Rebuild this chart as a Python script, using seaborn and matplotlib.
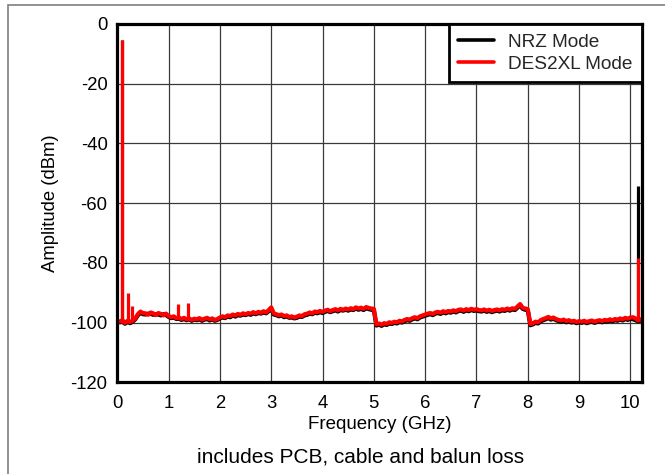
import numpy as np
import pandas as pd
import matplotlib
matplotlib.use("Agg")
import matplotlib.pyplot as plt
import seaborn as sns
from matplotlib.patches import Rectangle

# ---------------- data ----------------
freq_ghz = np.round(np.arange(0.05, 10.2001, 0.05), 2)  # sampling grid, 204 points

des2xl_dbm = [
    -99.6, -99.2, -100.1, -99.4, -99.8, -99.3, -98.6, -97.2, -96.3, -96.8,
    -96.9, -97.4, -96.6, -96.9, -97.5, -96.8, -97.1, -97.6, -97.0, -97.8,
    -98.2, -97.9, -98.5, -98.3, -98.8, -98.4, -98.9, -98.6, -99.1, -98.7,
    -98.9, -98.5, -99.0, -98.7, -98.4, -98.9, -98.6, -99.1, -98.8, -98.3,
    -97.9, -98.2, -97.6, -97.8, -97.3, -97.6, -97.1, -97.4, -96.9, -97.2,
    -96.8, -97.0, -96.5, -96.9, -96.4, -96.7, -96.2, -96.6, -95.8, -94.9,
    -96.9, -97.2, -97.5, -97.3, -97.8, -97.6, -98.1, -97.9, -98.3, -98.0,
    -97.6, -97.8, -97.2, -97.0, -96.6, -96.9, -96.3, -96.5, -96.1, -96.4,
    -96.0, -95.7, -96.2, -95.8, -95.5, -95.9, -95.4, -95.7, -95.3, -95.6,
    -95.2, -95.5, -94.9, -95.3, -95.0, -95.4, -94.8, -95.1, -95.3, -95.4,
    -100.6, -100.3, -100.7, -100.2, -100.4, -99.9, -100.1, -99.7, -99.9, -99.4,
    -99.6, -99.1, -98.8, -99.0, -98.5, -98.2, -98.5, -97.9, -97.6, -97.3,
    -97.0, -96.8, -97.1, -96.6, -96.4, -96.7, -96.2, -96.5, -96.1, -96.3,
    -95.9, -96.2, -95.7, -95.6, -96.0, -95.5, -95.8, -95.4, -95.7, -95.5,
    -95.8, -95.9, -95.6, -96.0, -95.7, -96.1, -95.8, -95.6, -95.9, -95.5,
    -95.7, -95.3, -95.6, -95.2, -95.4, -94.6, -93.8, -95.0, -95.3, -95.5,
    -100.5, -100.2, -99.7, -99.9, -99.2, -98.8, -98.5, -98.1, -98.6, -98.3,
    -98.8, -99.1, -99.3, -99.0, -99.5, -99.2, -99.6, -99.4, -99.8, -99.5,
    -99.7, -99.4, -99.8, -99.5, -99.3, -99.7, -99.4, -99.2, -99.5, -99.1,
    -99.3, -98.9, -99.2, -98.8, -99.0, -98.6, -98.9, -98.4, -98.7, -98.3,
    -98.2, -98.6, -99.3, -98.9,
]

nrz_dbm = [
    -99.9, -99.7, -100.4, -99.8, -100.2, -99.7, -98.9, -97.6, -96.7, -97.2,
    -97.3, -97.0, -97.1, -97.4, -97.2, -97.3, -97.6, -97.2, -97.5, -98.1,
    -98.5, -98.3, -98.8, -98.7, -99.1, -98.8, -99.2, -98.9, -99.4, -99.0,
    -99.2, -98.9, -99.4, -99.0, -98.8, -99.3, -98.9, -99.4, -99.1, -98.6,
    -98.3, -98.5, -98.0, -98.2, -97.6, -98.0, -97.5, -97.7, -97.3, -97.5,
    -97.1, -97.4, -96.9, -97.2, -96.8, -97.0, -96.6, -96.9, -96.2, -95.4,
    -97.3, -97.5, -97.9, -97.6, -98.2, -97.9, -98.4, -98.3, -98.6, -98.4,
    -98.0, -98.1, -97.6, -97.4, -97.0, -97.2, -96.7, -96.9, -96.5, -96.8,
    -96.4, -96.1, -96.5, -96.2, -95.9, -96.3, -95.8, -96.0, -95.7, -96.0,
    -95.6, -95.8, -95.3, -95.7, -95.4, -95.8, -95.2, -95.5, -95.7, -95.8,
    -101.0, -100.7, -101.1, -100.6, -100.8, -100.3, -100.5, -100.1, -100.3, -99.8,
    -100.0, -99.5, -99.2, -99.4, -98.9, -98.6, -98.9, -98.3, -98.0, -97.7,
    -97.4, -97.2, -97.5, -97.0, -96.8, -97.1, -96.6, -96.9, -96.5, -96.7,
    -96.3, -96.6, -96.1, -96.0, -96.4, -95.9, -96.2, -95.8, -96.1, -95.9,
    -96.2, -96.3, -96.0, -96.4, -96.1, -96.5, -96.2, -96.0, -96.3, -95.9,
    -96.1, -95.7, -96.0, -95.6, -95.8, -95.0, -94.2, -95.4, -95.7, -95.9,
    -100.9, -100.6, -100.1, -100.3, -99.6, -99.2, -98.9, -98.5, -99.0, -98.7,
    -99.2, -99.5, -99.7, -99.4, -99.9, -99.6, -100.0, -99.8, -100.2, -99.9,
    -100.1, -99.8, -100.2, -99.9, -99.7, -100.1, -99.8, -99.6, -99.9, -99.5,
    -99.7, -99.3, -99.6, -99.2, -99.4, -99.0, -99.3, -98.8, -99.1, -98.7,
    -98.9, -99.2, -99.6, -99.3,
]

# discrete tones (spurs)
des2xl_spur_ghz = [0.10, 0.20, 0.29, 1.19, 1.38, 10.15]
des2xl_spur_top = [-5.4, -90.0, -94.5, -93.9, -93.3, -78.3]
des2xl_spur_base = [-100.0, -100.0, -99.8, -98.8, -99.0, -99.3]

nrz_spur_ghz = [0.10, 10.15]
nrz_spur_top = [-5.4, -54.2]
nrz_spur_base = [-100.2, -99.6]

modes = ["NRZ Mode", "DES2XL Mode"]
x_ticks = [0, 1, 2, 3, 4, 5, 6, 7, 8, 9, 10]
y_ticks = [-120, -100, -80, -60, -40, -20, 0]

# ---------------- figure ----------------
sns.set_theme(style="white")
plt.rcParams["font.family"] = ["Liberation Sans", "DejaVu Sans"]

fig = plt.figure(figsize=(6.65, 4.74), dpi=100)
ax = fig.add_axes([117.3 / 665, 1 - 382.3 / 474, (641.7 - 117.3) / 665, (382.3 - 24) / 474])

df = pd.concat([
    pd.DataFrame({"Frequency": freq_ghz, "Amplitude": nrz_dbm, "Mode": modes[0]}),
    pd.DataFrame({"Frequency": freq_ghz, "Amplitude": des2xl_dbm, "Mode": modes[1]}),
], ignore_index=True)

palette = {"NRZ Mode": "black", "DES2XL Mode": "#ff0000"}
sns.lineplot(data=df, x="Frequency", y="Amplitude", hue="Mode", hue_order=modes,
             palette=palette, estimator=None, linewidth=3.0, ax=ax, legend=True)

ax.lines[0].set_zorder(2.0)
ax.lines[1].set_zorder(2.2)

ax.vlines(nrz_spur_ghz, nrz_spur_base, nrz_spur_top, colors="black", linewidth=2.3, zorder=2.1)
ax.vlines(des2xl_spur_ghz, des2xl_spur_base, des2xl_spur_top, colors="#ff0000", linewidth=2.3, zorder=2.3)

ax.set_xlim(0, 10.22)
ax.set_ylim(-120, 0)
ax.set_xticks(x_ticks)
ax.set_yticks(y_ticks)
ax.set_xticklabels([str(t) for t in x_ticks])
ax.set_yticklabels([str(t) for t in y_ticks])
ax.tick_params(axis="both", length=0, labelsize=13.3, colors="black")
ax.tick_params(axis="x", pad=9)
ax.tick_params(axis="y", pad=7)

ax.grid(True, color="#3a3a3a", linewidth=0.9)
ax.set_axisbelow(True)
for s in ax.spines.values():
    s.set_visible(True)
    s.set_color("black")
    s.set_linewidth(2.3)

ax.set_xlabel("Frequency (GHz)", fontsize=13.5, color="black", labelpad=3)
ax.set_ylabel("Amplitude (dBm)", fontsize=13.3, color="black", labelpad=8)

leg0 = ax.get_legend()
handles = leg0.legend_handles
labels = [t.get_text() for t in leg0.texts]
for h in handles:
    h.set_linewidth(2.6)
leg = ax.legend(handles, labels, loc="upper right", bbox_to_anchor=(1.0, 1.0),
                borderaxespad=0, frameon=True, fancybox=False, shadow=False,
                fontsize=13.7, handlelength=1.9, handletextpad=0.7,
                labelspacing=0.25, borderpad=0.5)
leg.get_frame().set_edgecolor("black")
leg.get_frame().set_linewidth(2.0)
leg.get_frame().set_alpha(1)
leg.set_zorder(5)

fig.text(361 / 665, 1 - 457 / 474, "includes PCB, cable and balun loss",
         ha="center", va="center", fontsize=15, color="black")

# outer frame of the figure
fig.patches.append(Rectangle((8 / 665, -0.2), 1.2, 1 - 5 / 474 + 0.2,
                             transform=fig.transFigure, fill=False,
                             edgecolor="#7f7f7f", linewidth=1.2, zorder=0))

fig.savefig("out.png", dpi=100)
